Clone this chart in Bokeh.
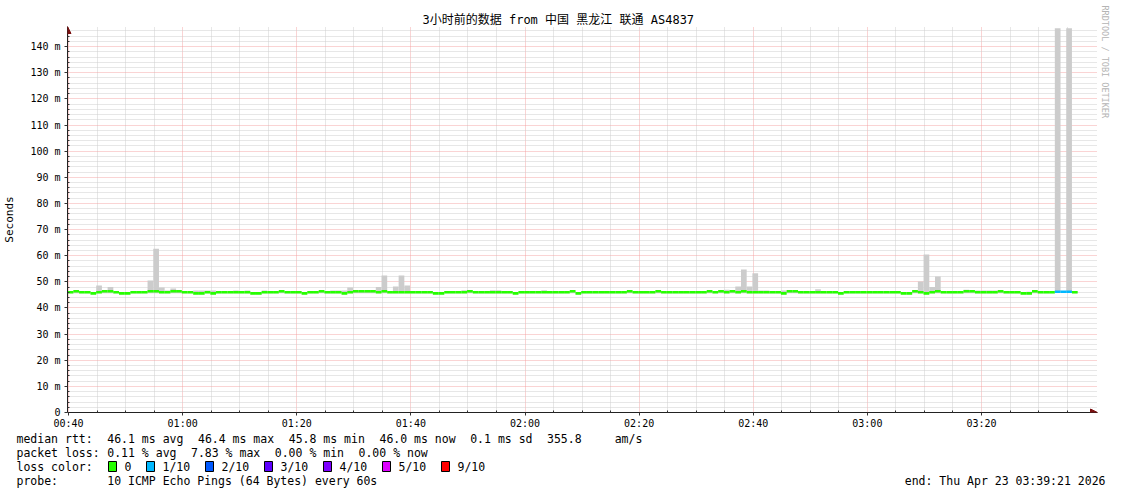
import math
from bokeh.plotting import figure
from bokeh.layouts import column, row
from bokeh.models import FixedTicker, Label, Arrow, NormalHead, Range1d, ColumnDataSource, Title
from bokeh.embed import file_html
from bokeh.resources import INLINE

# ---------------- data ----------------
start_minute = 40.35          # centre of first 1-minute step (minutes after 00:00)
median_ms = [
    46.0, 46.4, 46.0, 46.0, 45.6, 46.0, 46.4, 46.4, 46.0, 45.6,
    45.6, 46.0, 46.0, 46.0, 46.4, 46.4, 46.0, 46.0, 46.4, 46.4,
    46.0, 46.0, 45.6, 45.6, 46.0, 45.6, 46.0, 46.0, 46.0, 46.0,
    46.0, 46.0, 45.6, 45.6, 46.0, 46.0, 46.0, 46.4, 46.0, 46.0,
    46.0, 45.6, 46.0, 46.0, 46.4, 46.0, 46.0, 46.0, 45.6, 46.0,
    46.4, 46.4, 46.4, 46.4, 46.0, 46.4, 46.0, 46.0, 46.0, 46.0,
    46.0, 46.0, 46.0, 46.0, 45.6, 45.6, 46.0, 46.0, 46.0, 46.0,
    46.4, 46.0, 46.0, 46.0, 46.0, 46.0, 46.0, 46.0, 45.6, 46.0,
    46.0, 46.0, 46.0, 46.0, 46.0, 46.0, 46.0, 46.0, 46.4, 45.6,
    46.0, 46.0, 46.0, 46.0, 46.0, 46.0, 46.0, 46.0, 46.4, 46.0,
    46.0, 46.0, 46.0, 46.4, 46.0, 46.0, 46.0, 46.0, 46.0, 46.0,
    46.0, 46.0, 46.4, 46.0, 46.4, 46.0, 46.4, 46.0, 46.4, 46.0,
    46.0, 46.0, 46.0, 46.0, 46.0, 45.6, 46.4, 46.4, 46.0, 46.0,
    46.0, 46.0, 46.0, 46.0, 46.0, 45.6, 46.0, 46.0, 46.0, 46.0,
    46.0, 46.0, 46.0, 46.0, 46.0, 46.0, 45.6, 45.6, 46.4, 46.0,
    45.6, 46.0, 46.4, 46.0, 46.0, 46.0, 46.0, 46.4, 46.4, 46.0,
    46.0, 46.0, 46.0, 46.4, 46.0, 46.0, 46.0, 45.6, 45.6, 46.4,
    46.0, 46.0, 46.0, 46.2, 46.2, 46.2, 46.0,
]
smoke_max_ms = [
    46.4, 46.6, 46.4, 46.4, 46.0, 48.6, 46.8, 48.0, 46.4, 46.0,
    46.0, 46.4, 46.4, 46.4, 50.5, 62.7, 47.8, 46.7, 47.4, 46.8,
    46.4, 46.4, 46.7, 46.7, 46.7, 46.7, 46.4, 46.4, 46.4, 46.7,
    46.4, 46.7, 46.0, 46.0, 46.7, 46.4, 46.4, 46.6, 46.4, 46.4,
    46.4, 46.0, 46.4, 46.4, 46.6, 46.4, 46.7, 46.7, 46.7, 47.8,
    46.6, 46.6, 46.6, 46.6, 48.0, 52.4, 46.5, 48.2, 52.4, 48.6,
    46.4, 46.4, 46.4, 46.4, 46.0, 46.0, 46.4, 46.4, 46.4, 46.8,
    46.6, 46.4, 46.4, 46.4, 46.8, 46.8, 46.4, 46.4, 46.0, 46.4,
    46.4, 46.4, 46.4, 46.8, 46.4, 46.4, 46.4, 46.4, 46.6, 46.0,
    46.4, 46.4, 46.4, 46.4, 46.4, 46.4, 46.4, 46.4, 46.6, 46.4,
    46.4, 46.4, 46.4, 46.6, 46.4, 46.4, 46.4, 46.4, 46.4, 46.4,
    46.4, 46.4, 46.6, 46.4, 46.6, 47.0, 46.6, 48.2, 54.7, 48.2,
    53.3, 46.7, 46.7, 46.4, 46.4, 46.7, 46.6, 46.6, 46.4, 46.4,
    46.4, 47.2, 46.4, 46.4, 46.4, 46.0, 46.4, 46.4, 46.4, 46.4,
    46.4, 46.4, 46.4, 46.4, 46.4, 46.4, 46.0, 46.0, 46.6, 50.1,
    60.5, 48.0, 52.0, 46.4, 46.4, 46.4, 46.4, 47.0, 46.6, 46.7,
    46.7, 46.7, 46.7, 46.6, 46.4, 46.4, 46.4, 46.0, 46.2, 46.6,
    46.4, 46.4, 46.4, 147.0, 46.5, 147.0, 46.4,
]
smoke_min_ms = [
    45.6, 45.6, 45.6, 45.6, 45.2, 45.6, 45.6, 45.6, 45.6, 45.2,
    45.2, 45.6, 45.6, 45.6, 45.6, 45.6, 45.6, 45.6, 45.6, 45.6,
    45.6, 45.6, 45.2, 45.2, 45.6, 45.2, 45.6, 45.6, 45.6, 45.6,
    45.6, 45.6, 45.2, 45.2, 45.6, 45.6, 45.6, 45.6, 45.6, 45.6,
    45.6, 45.2, 45.6, 45.6, 45.6, 45.6, 45.6, 45.6, 45.2, 45.6,
    45.6, 45.6, 45.6, 45.6, 45.6, 45.6, 45.6, 45.6, 45.6, 45.6,
    45.6, 45.6, 45.6, 45.6, 45.2, 45.2, 45.6, 45.6, 45.6, 45.6,
    45.6, 45.6, 45.6, 45.6, 45.6, 45.6, 45.6, 45.6, 45.2, 45.6,
    45.6, 45.6, 45.6, 45.6, 45.6, 45.6, 45.6, 45.6, 45.6, 45.2,
    45.6, 45.6, 45.6, 45.6, 45.6, 45.6, 45.6, 45.6, 45.6, 45.6,
    45.6, 45.6, 45.6, 45.6, 45.6, 45.6, 45.6, 45.6, 45.6, 45.6,
    45.6, 45.6, 45.6, 45.6, 45.6, 45.6, 45.6, 45.6, 45.6, 45.6,
    45.6, 45.6, 45.6, 45.6, 45.6, 45.2, 45.6, 45.6, 45.6, 45.6,
    45.6, 45.6, 45.6, 45.6, 45.6, 45.2, 45.6, 45.6, 45.6, 45.6,
    45.6, 45.6, 45.6, 45.6, 45.6, 45.6, 45.2, 45.2, 45.6, 45.6,
    45.2, 45.6, 45.6, 45.6, 45.6, 45.6, 45.6, 45.6, 45.6, 45.6,
    45.6, 45.6, 45.6, 45.6, 45.6, 45.6, 45.6, 45.2, 45.2, 45.6,
    45.6, 45.6, 45.6, 45.8, 45.8, 45.8, 45.6,
]
loss_tenths = [0] * 173 + [1, 1, 1] + [0]

loss_palette = {0: "#26ff00", 1: "#00b8ff", 2: "#0059ff", 3: "#5e00ff",
                4: "#7e00ff", 5: "#dd00ff", 9: "#ff0000"}
loss_legend_labels = ["0", "1/10", "2/10", "3/10", "4/10", "5/10", "9/10"]
loss_legend_keys = [0, 1, 2, 3, 4, 5, 9]

x_tick_positions = [40, 60, 80, 100, 120, 140, 160, 180, 200]
x_tick_labels = ["00:40", "01:00", "01:20", "01:40", "02:00", "02:20", "02:40", "03:00", "03:20"]
y_tick_positions = [0, 10, 20, 30, 40, 50, 60, 70, 80, 90, 100, 110, 120, 130, 140]
y_tick_labels = ["0", "10 m", "20 m", "30 m", "40 m", "50 m", "60 m", "70 m", "80 m",
                 "90 m", "100 m", "110 m", "120 m", "130 m", "140 m"]

title_text = "3小时前的数据 from  中国 黑龙江 联通 AS4837"
rtt_tokens = [("median rtt:", 0), ("46.1 ms avg", 13), ("46.4 ms max", 26), ("45.8 ms min", 39),
              ("46.0 ms now", 52), ("0.1 ms sd", 65), ("355.8", 76), ("am/s", 85.7)]
loss_tokens = [("packet loss:", 0), ("0.11 % avg", 13), ("7.83 % max", 25),
               ("0.00 % min", 37), ("0.00 % now", 49)]
probe_tokens = [("probe:", 0), ("10 ICMP Echo Pings (64 Bytes) every 60s", 13)]
end_text = "end: Thu Apr 23 03:39:21 2026"

# ---------------- main figure ----------------
W = 1118
X0, X1 = 39.82, 220.33
Y0, Y1 = 0, 147.7
FW, FH = 1030, 386
TOP, LEFT, BOTTOM = 26, 67, 20
mono = "DejaVu Sans Mono"

p = figure(frame_width=FW, frame_height=FH,
           x_range=Range1d(X0, X1), y_range=Range1d(Y0, Y1),
           output_backend="svg", toolbar_location=None,
           min_border_left=LEFT, min_border_right=W - LEFT - FW,
           min_border_top=TOP, min_border_bottom=BOTTOM)
p.outline_line_color = None
p.background_fill_color = "white"
p.border_fill_color = "white"

p.title.text = title_text
p.title.text_font = "'DejaVu Sans Mono', 'Noto Sans CJK SC'"
p.title.text_font_size = "12px"
p.title.text_font_style = "normal"
p.title.text_color = "#000000"
p.title.align = "left"
p.title.offset = 422 - LEFT
p.title.standoff = 0
p.title.vertical_align = "bottom"

p.add_layout(Title(text="RRDTOOL / TOBI OETIKER", text_font=mono, text_font_size="8.5px",
                   text_font_style="normal", text_color="#b4b4b4", align="left",
                   offset=5 - TOP, standoff=0, vertical_align="top"), "right")

n = len(median_ms)
times = [start_minute + i for i in range(n)]
colors = [loss_palette[l] for l in loss_tenths]
src = ColumnDataSource(dict(t=times, med=median_ms, smax=smoke_max_ms, smin=smoke_min_ms,
                            mtop=[m + 0.5 for m in median_ms], mbot=[m - 0.5 for m in median_ms],
                            c=colors))

p.vbar(x="t", top="smax", bottom="smin", width=1.0, source=src,
       fill_color="#cccccc", line_color=None)
p.vbar(x="t", top="mtop", bottom="mbot", width=1.0, source=src,
       fill_color="c", line_color=None)

# axes
p.xaxis.ticker = FixedTicker(ticks=x_tick_positions,
                             minor_ticks=[m for m in range(45, 220, 5) if m not in x_tick_positions])
p.xaxis.major_label_overrides = {k: v for k, v in zip(x_tick_positions, x_tick_labels)}
p.yaxis.ticker = FixedTicker(ticks=y_tick_positions,
                             minor_ticks=[m for m in range(2, 147, 2) if m not in y_tick_positions])
p.yaxis.major_label_overrides = {k: v for k, v in zip(y_tick_positions, y_tick_labels)}
for ax in (p.xaxis, p.yaxis):
    ax.major_label_text_font = mono
    ax.major_label_text_font_size = "10px"
    ax.major_label_text_color = "#000000"
    ax.axis_line_color = "#222222"
    ax.major_tick_line_color = "#333333"
    ax.minor_tick_line_color = "#333333"
    ax.major_tick_out = 3
    ax.major_tick_in = 0
    ax.minor_tick_out = 0
    ax.minor_tick_in = 2
p.xaxis.major_label_standoff = 2
p.yaxis.major_label_standoff = 4
p.yaxis.axis_label = "Seconds"
p.yaxis.axis_label_text_font = mono
p.yaxis.axis_label_text_font_size = "11px"
p.yaxis.axis_label_text_font_style = "normal"
p.yaxis.axis_label_text_color = "#000000"
p.yaxis.axis_label_standoff = 11

p.xgrid.ticker = p.xaxis[0].ticker
p.ygrid.ticker = p.yaxis[0].ticker
for g in (p.xgrid, p.ygrid):
    g.grid_line_color = "#f4a0a0"
    g.grid_line_alpha = 0.9
    g.grid_line_dash = "1 1"
    g.minor_grid_line_color = "#cfcfcf"
    g.minor_grid_line_dash = "1 1"

# axis arrow heads (inside the frame)
p.add_layout(Arrow(end=NormalHead(size=7, fill_color="#7a1010", line_color="#7a1010"),
                   x_start=X0, y_start=Y1 - 3, x_end=X0, y_end=Y1, line_alpha=0))
p.add_layout(Arrow(end=NormalHead(size=7, fill_color="#7a1010", line_color="#7a1010"),
                   x_start=X1 - 1, y_start=Y0, x_end=X1, y_end=Y0, line_alpha=0))

# ---------------- legend figure (pixel coordinates) ----------------
LH = 60
q = figure(frame_width=W, frame_height=LH, x_range=Range1d(0, W), y_range=Range1d(0, LH),
           output_backend="svg", toolbar_location=None, min_border=0)
q.axis.visible = False
q.grid.visible = False
q.outline_line_color = None
q.border_fill_color = "white"

def lab(text, x, y_top, align="left"):
    q.add_layout(Label(x=x, y=LH - y_top, text=text, text_font=mono, text_font_size="11.5px",
                       text_color="#000000", text_align=align, text_baseline="middle"))

MAIN_H = TOP + FH + BOTTOM
CW = 6.98
LX = 16
for txt, col in rtt_tokens:
    lab(txt, LX + col * CW, 438 - MAIN_H)
for txt, col in loss_tokens:
    lab(txt, LX + col * CW, 452 - MAIN_H)
lab("loss color:", LX, 466 - MAIN_H)
box_x = [108, 146, 205, 264, 323, 382, 441]
yb = LH - (466 - MAIN_H)
q.quad(left=[b for b in box_x], right=[b + 8 for b in box_x],
       bottom=[yb - 5] * len(box_x), top=[yb + 5] * len(box_x),
       fill_color=[loss_palette[k] for k in loss_legend_keys], line_color="#000000", line_width=1)
for bx, txt in zip(box_x, loss_legend_labels):
    lab(txt, bx + 16, 466 - MAIN_H)
for txt, col in probe_tokens:
    lab(txt, LX + col * CW, 480 - MAIN_H)
lab(end_text, 1105, 480 - MAIN_H, align="right")

layout = column(p, row(q), spacing=0)
open("out.html", "w").write(file_html(layout, INLINE))
